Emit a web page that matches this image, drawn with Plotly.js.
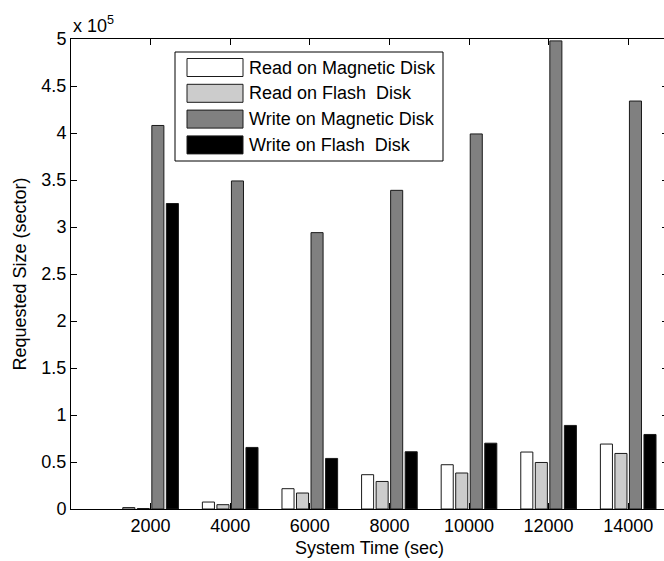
<!DOCTYPE html>
<html>
<head>
<meta charset="utf-8">
<script src="https://cdn.plot.ly/plotly-3.0.1.min.js"></script>
<style>
html,body{margin:0;padding:0;overflow:hidden;background:#fff;}
#chart{width:700px;height:561px;}
</style>
</head>
<body>
<div id="chart"></div>
<script>
// ---- data ----
const times = [2000, 4000, 6000, 8000, 10000, 12000, 14000];
const seriesNames = ["Read on Magnetic Disk", "Read on Flash  Disk", "Write on Magnetic Disk", "Write on Flash  Disk"];
const readMagnetic  = [1500, 7400, 21600, 36500, 47100, 60600, 69100];
const readFlash     = [500, 4600, 17000, 29300, 38300, 49500, 59100];
const writeMagnetic = [408000, 349000, 294000, 339000, 399000, 498000, 434000];
const writeFlash    = [325000, 65500, 53800, 60900, 70000, 88900, 79300];
const yTickVals = [0, 50000, 100000, 150000, 200000, 250000, 300000, 350000, 400000, 450000, 500000];
const yTickText = ["0", "0.5", "1", "1.5", "2", "2.5", "3", "3.5", "4", "4.5", "5"];
const xTickVals = times;
const xTickText = ["2000", "4000", "6000", "8000", "10000", "12000", "14000"];

// ---- style ----
const fills = ["#ffffff", "#cccccc", "#808080", "#000000"];
const FONT = "Liberation Sans, Arial, Helvetica, sans-serif";
const allSeries = [readMagnetic, readFlash, writeMagnetic, writeFlash];

const traces = allSeries.map((vals, i) => ({
  type: "bar",
  name: seriesNames[i],
  x: times,
  y: vals,
  marker: {color: fills[i], line: {color: "#1a1a1a", width: 1}},
  showlegend: false,
  hoverinfo: "x+y+name"
}));

// custom MATLAB-like legend (box, swatches, labels)
const plotTop = 39, plotH = 470, plotL = 71, plotW = 597;
const px2x = p => (p - plotL) / plotW;
const py2y = p => (plotTop + plotH - p) / plotH;
const shapes = [{
  type: "rect", xref: "paper", yref: "paper",
  x0: px2x(175), x1: px2x(443), y0: py2y(161), y1: py2y(52),
  line: {color: "#000", width: 1}, fillcolor: "#fff", layer: "above"
}];
const annotations = [];
seriesNames.forEach((nm, i) => {
  const cy = 67.5 + i * 25.8;
  shapes.push({
    type: "rect", xref: "paper", yref: "paper",
    x0: px2x(187), x1: px2x(243), y0: py2y(cy + 9), y1: py2y(cy - 9),
    line: {color: "#1a1a1a", width: 1}, fillcolor: fills[i], layer: "above"
  });
  annotations.push({
    xref: "paper", yref: "paper", x: px2x(247), y: py2y(cy),
    xanchor: "left", yanchor: "middle", showarrow: false,
    text: nm, font: {family: FONT, size: 18, color: "#000"}
  });
});
annotations.push({
  xref: "paper", yref: "paper", x: 0, y: 1, xanchor: "left", yanchor: "bottom",
  yshift: 1, showarrow: false, text: "x 10<sup>5</sup>",
  font: {family: FONT, size: 18, color: "#000"}
});

const layout = {
  width: 700, height: 561,
  margin: {l: plotL, r: 700 - plotL - plotW, t: plotTop, b: 561 - plotTop - plotH},
  paper_bgcolor: "#fff", plot_bgcolor: "#fff",
  font: {family: FONT, size: 18, color: "#000"},
  barmode: "group", bargap: 0.27, bargroupgap: 0.17,
  xaxis: {
    range: [0, 15000], tickvals: xTickVals, ticktext: xTickText,
    ticks: "inside", ticklen: 6, tickcolor: "#000", showline: true, linecolor: "#000",
    linewidth: 1, mirror: "ticks", showgrid: false, zeroline: false,
    title: {text: "System Time (sec)", font: {family: FONT, size: 18}, standoff: 6},
    tickfont: {family: FONT, size: 18}
  },
  yaxis: {
    range: [0, 500000], tickvals: yTickVals, ticktext: yTickText,
    ticks: "inside", ticklen: 6, tickcolor: "#000", showline: true, linecolor: "#000",
    linewidth: 1, mirror: "ticks", showgrid: false, zeroline: false,
    title: {text: "Requested Size (sector)", font: {family: FONT, size: 18}, standoff: 10},
    tickfont: {family: FONT, size: 18}
  },
  shapes: shapes,
  annotations: annotations
};

Plotly.newPlot("chart", traces, layout, {displayModeBar: false, staticPlot: true});
</script>
</body>
</html>
